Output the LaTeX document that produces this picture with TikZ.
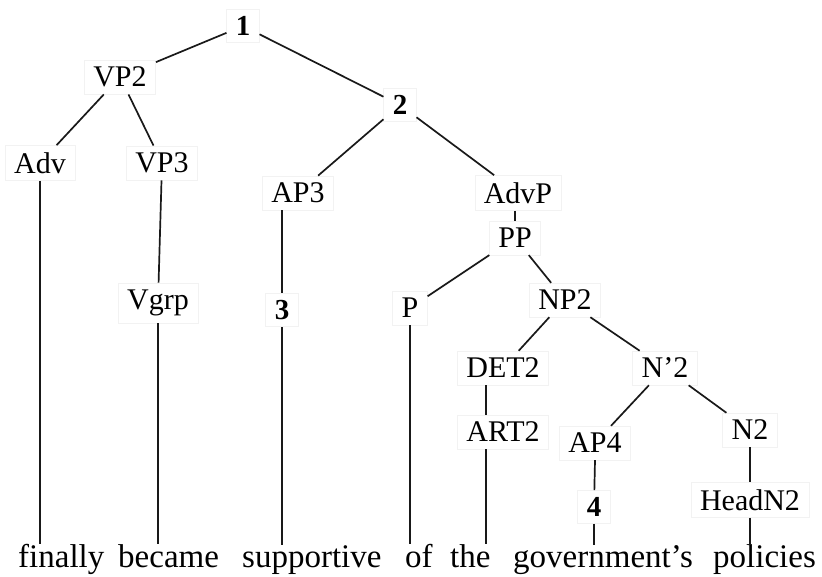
\documentclass[tikz,border=0pt]{standalone}
\usepackage{fontspec}
\setmainfont{Liberation Serif}
\begin{document}
\begin{tikzpicture}[x=1pt,y=-1pt,
  lab/.style={font=\fontsize{30}{31}\selectfont, inner xsep=9pt, inner ysep=7pt, draw=black!5, line width=0.6pt},
  num/.style={lab, font=\fontsize{29}{30}\selectfont\bfseries},
  word/.style={font=\fontsize{33}{36}\selectfont, inner sep=0pt, anchor=base west},
  edge/.style={line width=1.7pt, black!90}]
\useasboundingbox (0,0) rectangle (822,576);
% nodes
\node[num] (n1) at (243,26) {1};
\node[lab] (vp2) at (120,77) {VP2};
\node[num] (n2) at (400,105) {2};
\node[lab] (adv) at (40,163) {Adv};
\node[lab] (vp3) at (162,163) {VP3};
\node[lab] (ap3) at (298,193) {AP3};
\node[lab] (advp) at (518,193) {AdvP};
\node[lab] (pp) at (515,238) {PP};
\node[lab] (vgrp) at (158,303) {Vgrp};
\node[num] (n3) at (282,310) {3};
\node[lab] (p) at (410,308) {P};
\node[lab] (np2) at (565,300) {NP2};
\node[lab] (det2) at (503,368) {DET2};
\node[lab] (nb2) at (665,368) {N’2};
\node[lab] (art2) at (503,432) {ART2};
\node[lab] (ap4) at (595,443) {AP4};
\node[lab] (n2b) at (750,430) {N2};
\node[num] (n4) at (594,507) {4};
\node[lab] (headn2) at (750,500) {HeadN2};
% words
\node[word] (w1) at (18,567) {finally};
\node[word] (w2) at (118,567) {became};
\node[word] (w3) at (242,567) {supportive};
\node[word] (w4) at (405,567) {of};
\node[word] (w5) at (450,567) {the};
\node[word] (w6) at (513,567) {government’s};
\node[word] (w7) at (713,567) {policies};
\coordinate (artx) at (486,0);
% edges
\draw[edge] (n1) -- (vp2);
\draw[edge] (n1) -- (n2);
\draw[edge] (vp2) -- (adv);
\draw[edge] (vp2) -- (vp3);
\draw[edge] (n2) -- (ap3);
\draw[edge] (n2) -- (advp);
\draw[edge] (adv.south) -- (adv.south |- w1.north);
\draw[edge] (vp3) -- (vgrp);
\draw[edge] (vgrp.south) -- (vgrp.south |- w2.north);
\draw[edge] (ap3.south -| n3) -- (n3);
\draw[edge] (n3.south) -- (n3.south |- w3.north);
\draw[edge] (advp.south -| pp) -- (pp);
\draw[edge] (pp) -- (p);
\draw[edge] (pp) -- (np2);
\draw[edge] (p.south) -- (p.south |- w4.north);
\draw[edge] (np2) -- (det2);
\draw[edge] (np2) -- (nb2);
\draw[edge] (det2.south -| artx) -- (art2.north -| artx);
\draw[edge] (art2.south -| artx) -- (artx |- w5.north);
\draw[edge] (nb2) -- (ap4);
\draw[edge] (nb2) -- (n2b);
\draw[edge] (ap4.south) -- (n4);
\draw[edge] (n4.south) -- (n4.south |- w6.north);
\draw[edge] (n2b) -- (headn2);
\draw[edge] (headn2.south) -- (headn2.south |- w7.north);
\end{tikzpicture}
\end{document}
